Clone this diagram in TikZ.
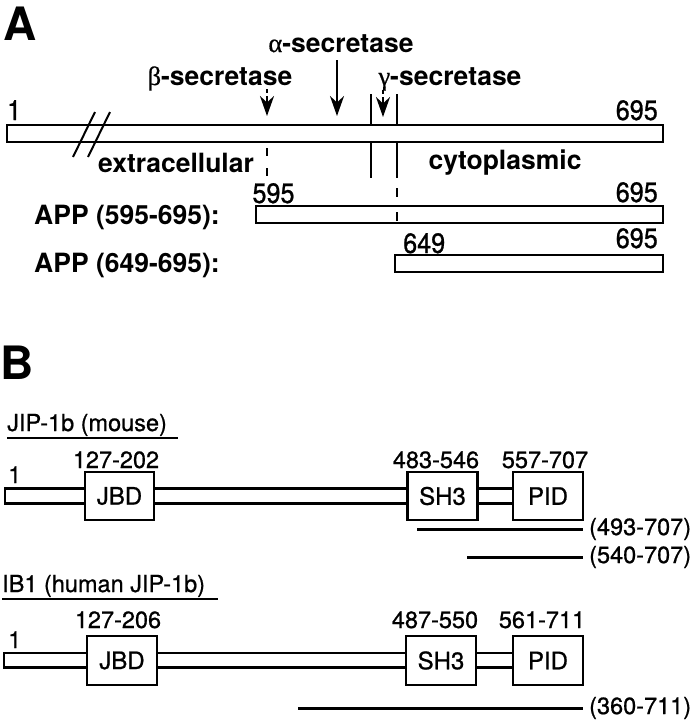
\documentclass[tikz,border=0pt]{standalone}
\usepackage{fontspec}
\setmainfont{TeX Gyre Heros}
\newfontfamily\grk[FakeBold=0.6]{Liberation Serif}
\newfontfamily\narrowfont[FakeStretch=0.9,FakeBold=0.8]{TeX Gyre Heros}
\newfontfamily\medfont[FakeBold=0.8]{TeX Gyre Heros}
\usetikzlibrary{arrows.meta}
\tikzset{
  outl/.style={line width=2.4pt},
  barbox/.style={draw, line width=2.4pt, inner sep=0pt, minimum height=17pt},
  big/.style={font=\fontsize{46}{50}\selectfont\bfseries, inner sep=0pt},
  lbl/.style={font=\fontsize{26.5}{30}\selectfont\bfseries, inner sep=0pt},
  num/.style={font=\narrowfont\fontsize{28}{30}\selectfont, inner sep=0pt},
  bnum/.style={font=\medfont\fontsize{23.5}{28}\selectfont, inner sep=0pt},
  dom/.style={draw, line width=2.5pt, minimum width=69pt, minimum height=48pt, inner sep=0pt, font=\medfont\fontsize{24}{28}\selectfont},
  frag/.style={line width=3pt},
  cut/.style={-{Stealth[length=20pt,width=14pt,inset=6.5pt]}, line width=2.4pt},
}
\begin{document}
\begin{tikzpicture}[x=1pt,y=-1pt]
\useasboundingbox (0,0) rectangle (695,720);
% ---------------- A ----------------
\node[big, anchor=base west] (labA) at (3,40) {A};
\node[barbox, minimum width=656pt] (app) at (335,133.5) {};
\draw[line width=2pt] (73,157) -- (95,112);
\draw[line width=2pt] (88,157) -- (110,112);
\node[num, anchor=base west] (n1) at (7,120) {1};
\node[num, anchor=base east] (n695a) at (658,120) {695};
% secretase labels
\node[lbl, anchor=base] (alab) at (341,52) {{\mdseries\grk α}-secretase};
\node[lbl, anchor=base] (blab) at (220,85) {{\mdseries\grk β}-secretase};
\node[lbl, anchor=base] (glab) at (450,85) {{\mdseries\grk γ}-secretase};
% cut arrows
\coordinate (atop) at (337,60);  \coordinate (atip) at (337,116);
\coordinate (btop) at (267,89);  \coordinate (btip) at (267,116);
\coordinate (gtop) at (383,90);  \coordinate (gtip) at (383,117);
\draw[cut] (atop) -- (atip);
\draw[cut, dash pattern=on 4pt off 3pt on 60pt] (btop) -- (btip);
\draw[cut, dash pattern=on 4pt off 3pt on 60pt] (gtop) -- (gtip);
% transmembrane lines
\draw[outl] (371,94) -- (app.north -| 371,0);
\draw[outl] (397,94) -- (app.north -| 397,0);
\draw[outl] (app.south -| 371,0) -- (371,178);
\draw[outl] (app.south -| 397,0) -- (397,178);
\draw[outl, dash pattern=on 8pt off 12pt] (app.south -| 267,0) ++(0,5) -- (267,178);
\draw[outl, dash pattern=on 9pt off 15pt] (397,188) -- (397,222);
\node[lbl, anchor=base] (extra) at (176,172) {extracellular};
\node[lbl, anchor=base] (cyto) at (505,169) {cytoplasmic};
% fragments
\node[lbl, anchor=base west] (f1lab) at (34,224) {APP (595-695):};
\node[barbox, minimum width=407pt] (f1) at (459.5,214.5) {};
\node[num, anchor=base] (n595) at (273.5,203) {595};
\node[num, anchor=base east] (n695b) at (658,202) {695};
\node[lbl, anchor=base west] (f2lab) at (34,272) {APP (649-695):};
\node[barbox, minimum width=268pt] (f2) at (529,263.5) {};
\node[num, anchor=base west] (n649) at (403,253) {649};
\node[num, anchor=base east] (n695c) at (658,248) {695};
% ---------------- B ----------------
\node[big, anchor=base west] (labB) at (0,379) {B};
% mouse JIP-1b
\node[bnum, anchor=base west] (mtitle) at (7,431) {JIP-1b (mouse)};
\draw[line width=1.8pt] (7,438) -- (178,438);
\node[dom] (jbd1) at (119.5,496) {JBD};
\node[dom, minimum width=70pt] (sh31) at (442.5,496) {SH3};
\node[dom, minimum width=70pt] (pid1) at (548,496) {PID};
\draw[outl] (jbd1.west |- 0,488.5) -- (5,488.5) -- (5,503.5) -- (jbd1.west |- 0,503.5);
\draw[outl] (jbd1.east |- 0,488.5) -- (sh31.west |- 0,488.5);
\draw[outl] (jbd1.east |- 0,503.5) -- (sh31.west |- 0,503.5);
\draw[outl] (sh31.east |- 0,488.5) -- (pid1.west |- 0,488.5);
\draw[outl] (sh31.east |- 0,503.5) -- (pid1.west |- 0,503.5);
\node[bnum, anchor=base west] (m1) at (8,483) {1};
\node[bnum, anchor=base] (mj) at (116,468) {127-202};
\node[bnum, anchor=base] (ms) at (436,468) {483-546};
\node[bnum, anchor=base] (mp) at (545,468) {557-707};
\node[bnum, anchor=west] (fr1) at (589,529) {(493-707)};
\node[bnum, anchor=west] (fr2) at (589,557) {(540-707)};
\coordinate (fr1s) at (417,529);
\coordinate (fr2s) at (467,557);
\draw[frag] (fr1s) -- ([xshift=-6pt]fr1.west);
\draw[frag] (fr2s) -- ([xshift=-6pt]fr2.west);
% human IB1
\node[bnum, anchor=base west] (htitle) at (2,592) {IB1 (human JIP-1b)};
\draw[line width=1.8pt] (2,599) -- (218,599);
\node[dom, minimum width=70pt, minimum height=49pt] (jbd2) at (122,660.5) {JBD};
\node[dom, minimum width=70pt, minimum height=49pt] (sh32) at (441,660.5) {SH3};
\node[dom, minimum width=70pt, minimum height=49pt] (pid2) at (548,660.5) {PID};
\draw[outl] (jbd2.west |- 0,653) -- (4,653) -- (4,667.5) -- (jbd2.west |- 0,667.5);
\draw[outl] (jbd2.east |- 0,653) -- (sh32.west |- 0,653);
\draw[outl] (jbd2.east |- 0,667.5) -- (sh32.west |- 0,667.5);
\draw[outl] (sh32.east |- 0,653) -- (pid2.west |- 0,653);
\draw[outl] (sh32.east |- 0,667.5) -- (pid2.west |- 0,667.5);
\node[bnum, anchor=base west] (h1) at (8,648) {1};
\node[bnum, anchor=base] (hj) at (118,628) {127-206};
\node[bnum, anchor=base] (hs) at (435,628) {487-550};
\node[bnum, anchor=base] (hp) at (542,628) {561-711};
\node[bnum, anchor=west] (fr3) at (589,708) {(360-711)};
\coordinate (fr3s) at (298,708);
\draw[frag] (fr3s) -- ([xshift=-6pt]fr3.west);
\end{tikzpicture}
\end{document}
